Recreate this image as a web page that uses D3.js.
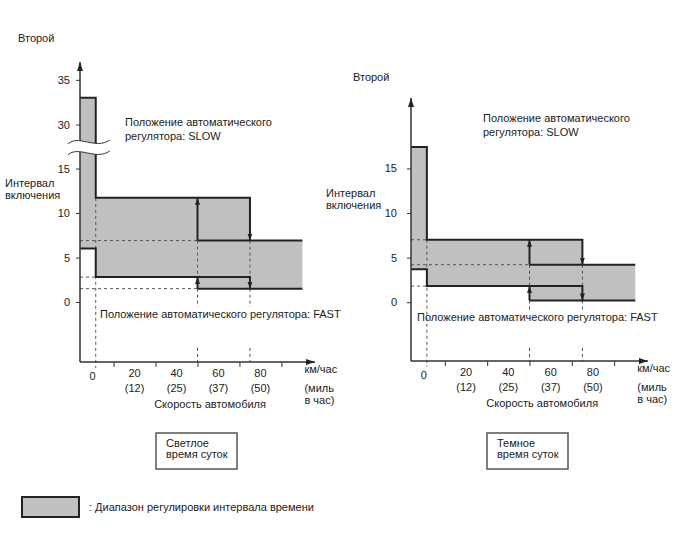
<!DOCTYPE html>
<html>
<head>
<meta charset="utf-8">
<script src="https://cdn.jsdelivr.net/npm/d3@7"></script>
<style>
body { margin: 0; background: #fff; }
svg text { font-family: "Liberation Sans", Arial, sans-serif; font-size: 11px; fill: #222; }
</style>
</head>
<body>
<div id="chart"></div>
<script>
// speed axis (km/h), with mph in brackets
var speedLabels = [0, 20, 40, 60, 80];
var mphLabels = ["", "(12)", "(25)", "(37)", "(50)"];
var speedTicks = [10, 30, 50, 70, 90];
// axis start, first step, switch up, switch down, end of range
var switchKmh = [-6, 1.5, 50, 75, 100];

// interval in seconds: [standing, low speed, high speed]
var daySlow = [33, 11.7, 6.9];
var dayFast = [6, 2.8, 1.5];
var nightSlow = [17.4, 7.0, 4.2];
var nightFast = [3.7, 1.8, 0.2];

var dayYTicks = [0, 5, 10, 15, 30, 35];
var nightYTicks = [0, 5, 10, 15];

var svg = d3.select("#chart").append("svg").attr("width", 688).attr("height", 560);

var defs = svg.append("defs");
defs.append("marker").attr("id", "axisArrow")
  .attr("viewBox", "0 0 9 6").attr("refX", 9).attr("refY", 3)
  .attr("markerWidth", 9).attr("markerHeight", 6)
  .attr("markerUnits", "userSpaceOnUse").attr("orient", "auto")
  .append("path").attr("d", "M0,0L9,3L0,6Z").attr("fill", "#222");
defs.append("marker").attr("id", "lineArrow")
  .attr("viewBox", "0 0 7 5").attr("refX", 7).attr("refY", 2.5)
  .attr("markerWidth", 7).attr("markerHeight", 5)
  .attr("markerUnits", "userSpaceOnUse").attr("orient", "auto")
  .append("path").attr("d", "M0,0L7,2.5L0,5Z").attr("fill", "#222");

var line = d3.line();

function drawChart(o) {
  var g = svg.append("g");
  var x = d3.scaleLinear().domain([-6, 106]).range(o.xRange);
  var y = o.y;
  var axisY = y(o.yMin);
  var k = switchKmh.map(x);
  var s = o.slow.map(y), f = o.fast.map(y);

  function dash(x1, y1, x2, y2) {
    g.append("line").attr("x1", x1).attr("y1", y1).attr("x2", x2).attr("y2", y2)
      .attr("stroke", "#555").attr("stroke-width", 1).attr("stroke-dasharray", "3,3");
  }

  // shaded adjustment range
  var band = [[k[0], s[0]], [k[1], s[0]], [k[1], s[1]], [k[3], s[1]], [k[3], s[2]], [k[4], s[2]],
    [k[4], f[2]], [k[2], f[2]], [k[2], f[1]], [k[1], f[1]], [k[1], f[0]], [k[0], f[0]]];
  g.append("path").attr("d", line(band) + "Z").attr("fill", "#c0c0c0");

  // dashed guides
  o.hDash.forEach(function (d) {
    dash(k[0], y(d[0]), k[d[1]], y(d[0]));
  });
  dash(k[1], s[1], k[1], axisY + 6);
  var gapTop = o.fastY - 11, gapBottom = 348;
  [2, 3].forEach(function (i) {
    dash(k[i], s[2], k[i], f[1]);
    dash(k[i], f[2], k[i], gapTop);
    dash(k[i], gapBottom, k[i], axisY);
  });

  // slow and fast switching lines
  function thick(pts, arrow) {
    var p = g.append("path").attr("d", line(pts)).attr("fill", "none")
      .attr("stroke", "#222").attr("stroke-width", 2);
    if (arrow) p.attr("marker-end", "url(#lineArrow)");
  }
  thick([[k[0], s[0]], [k[1], s[0]], [k[1], s[1]], [k[3], s[1]], [k[3], s[2]]], true);
  thick([[k[2], s[2]], [k[4], s[2]]]);
  thick([[k[2], s[2]], [k[2], s[1]]], true);
  thick([[k[0], f[0]], [k[1], f[0]], [k[1], f[1]], [k[3], f[1]], [k[3], f[2]]], true);
  thick([[k[2], f[2]], [k[4], f[2]]]);
  thick([[k[2], f[2]], [k[2], f[1]]], true);

  // axes
  var yAxis = g.append("g").attr("transform", "translate(" + k[0] + ",0)")
    .call(d3.axisLeft(y).tickValues(o.yTicks).tickSize(4).tickPadding(o.tickPad));
  yAxis.select(".domain").remove();
  yAxis.selectAll("line").attr("stroke", "#333");
  yAxis.selectAll("text").style("font-size", "11px").attr("fill", "#222")
    .style("font-family", "'Liberation Sans', Arial, sans-serif");

  var xAxis = g.append("g").attr("transform", "translate(0," + axisY + ")")
    .call(d3.axisBottom(x).tickValues(speedTicks).tickSize(5).tickFormat(""));
  xAxis.select(".domain").remove();
  xAxis.selectAll("line").attr("stroke", "#333");

  g.append("line").attr("x1", k[0]).attr("y1", axisY).attr("x2", k[0]).attr("y2", y(o.yMax))
    .attr("stroke", "#333").attr("stroke-width", 1.5).attr("marker-end", "url(#axisArrow)");
  g.append("line").attr("x1", k[0]).attr("y1", axisY).attr("x2", x(106)).attr("y2", axisY)
    .attr("stroke", "#333").attr("stroke-width", 1.5).attr("marker-end", "url(#axisArrow)");

  // broken scale on the day chart
  if (o.brk) {
    var c = o.brk, x1 = k[0] - 12, x2 = k[1] + 14;
    var wave = function (cy) {
      return "M" + x1 + "," + (cy + 2) + "C" + (x1 + 10) + "," + (cy - 8) + " " + (x2 - 14) + "," + (cy + 8) + " " + x2 + "," + (cy - 2);
    };
    var wave2 = "L" + x2 + "," + (c + 9) + "C" + (x2 - 14) + "," + (c + 19) + " " + (x1 + 10) + "," + (c + 3) + " " + x1 + "," + (c + 13) + "Z";
    g.append("path").attr("d", wave(c) + wave2).attr("fill", "#fff");
    g.append("path").attr("d", wave(c)).attr("fill", "none").attr("stroke", "#333");
    g.append("path").attr("d", wave(c + 11)).attr("fill", "none").attr("stroke", "#333");
  }

  // speed labels
  speedLabels.forEach(function (v, i) {
    g.append("text").attr("x", x(v)).attr("y", axisY + (v === 0 ? 18 : 15))
      .attr("text-anchor", "middle").text(v);
    if (mphLabels[i]) {
      g.append("text").attr("x", x(v)).attr("y", axisY + 30)
        .attr("text-anchor", "middle").text(mphLabels[i]);
    }
  });
  var ux = x(100) + 2;
  g.append("text").attr("x", ux).attr("y", axisY + 11).text("км/час");
  g.append("text").attr("x", ux).attr("y", axisY + 30).text("(миль");
  g.append("text").attr("x", ux).attr("y", axisY + 42).text("в час)");
  g.append("text").attr("x", x(56)).attr("y", axisY + 46).attr("text-anchor", "middle")
    .text("Скорость автомобиля");

  g.append("text").attr("x", o.unitX).attr("y", o.unitY).text("Второй");
  g.append("text").attr("x", o.intX).attr("y", o.intY).text("Интервал");
  g.append("text").attr("x", o.intX).attr("y", o.intY + 12).text("включения");
  g.append("text").attr("x", o.slowX).attr("y", o.slowY).text("Положение автоматического");
  g.append("text").attr("x", o.slowX).attr("y", o.slowY + 14).text("регулятора: SLOW");
  g.append("text").attr("x", o.fastX).attr("y", o.fastY)
    .text("Положение автоматического регулятора: FAST");

  // caption box
  g.append("rect").attr("x", o.box[0]).attr("y", 433).attr("width", o.box[1]).attr("height", 36)
    .attr("fill", "#fff").attr("stroke", "#555").attr("stroke-width", 1.5);
  g.append("text").attr("x", o.box[0] + 10).attr("y", 447).text(o.caption[0]);
  g.append("text").attr("x", o.box[0] + 10).attr("y", 458).text(o.caption[1]);
}

drawChart({
  xRange: [80, 315],
  y: d3.scaleLinear().domain([-6.75, 0, 15, 30, 37]).range([362, 302, 168.5, 124.5, 62]),
  yMin: -6.75, yMax: 37, yTicks: dayYTicks, tickPad: 6,
  slow: daySlow, fast: dayFast,
  hDash: [[daySlow[2], 2], [dayFast[1], 1], [dayFast[2], 2]],
  brk: 142,
  unitX: 18, unitY: 42, intX: 5, intY: 187,
  slowX: 125, slowY: 126, fastX: 100, fastY: 318,
  box: [156, 81], caption: ["Светлое", "время суток"]
});

drawChart({
  xRange: [411, 648],
  y: d3.scaleLinear().domain([-6.6, 22.9]).range([361, 98]),
  yMin: -6.6, yMax: 22.9, yTicks: nightYTicks, tickPad: 10,
  slow: nightSlow, fast: nightFast,
  hDash: [[nightSlow[1], 1], [nightSlow[2], 2], [nightFast[1], 1]],
  brk: null,
  unitX: 353, unitY: 81, intX: 326, intY: 197,
  slowX: 483, slowY: 122, fastX: 417, fastY: 321,
  box: [487, 81], caption: ["Темное", "время суток"]
});

// legend
svg.append("rect").attr("x", 22).attr("y", 497).attr("width", 57).attr("height", 20)
  .attr("fill", "#c0c0c0").attr("stroke", "#222").attr("stroke-width", 2);
svg.append("text").attr("x", 89).attr("y", 511).text(": Диапазон регулировки интервала времени");
</script>
</body>
</html>
